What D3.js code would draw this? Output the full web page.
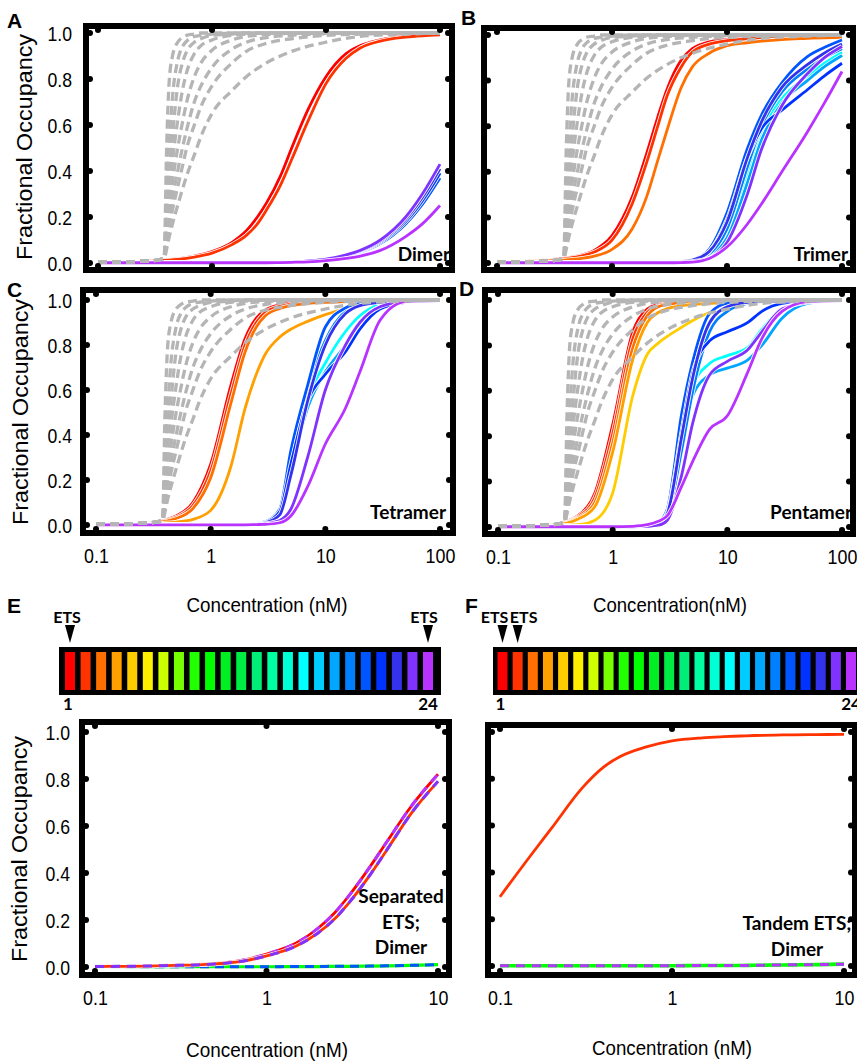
<!DOCTYPE html>
<html><head><meta charset="utf-8">
<script src="https://cdn.jsdelivr.net/npm/d3@7"></script>
<style>body{margin:0;background:#fff}svg{display:block}</style>
</head><body>
<svg id="chart" width="857" height="1061"></svg>
<script>
// ---------------- DATA ----------------
const positions = [1,2,3,4,5,6,7,8,9,10,11,12,13,14,15,16,17,18,19,20,21,22,23,24];
const positionColors = ["#ff0000","#ff3300","#ff7000","#ff9f00","#ffcc00","#fff000","#ccff00","#77ff00",
  "#22ff00","#00ff00","#00ee22","#00ee44","#00ee77","#00ffa0","#00ffd5","#00ffff",
  "#00ccff","#00a6ff","#0080ff","#0055ff","#0033ff","#3333ee","#8033ff","#b833ff"];
const yTicks = [0, 0.2, 0.4, 0.6, 0.8, 1.0];
const xTicksWide = [0.1, 1, 10, 100];
const xTickLabelsWide = ["0.1", "1", "10", "100"];
const xTicksNarrow = [0.1, 1, 10];
const xTickLabelsNarrow = ["0.1", "1", "10"];

// concentration grid (nM) for panels A-D
const concentrations = [0.1,0.15,0.2,0.3,0.4,0.5,0.7,1,1.5,2,2.5,3,4,5,7,10,15,20,30,50,70,100];

// gray dashed reference curves (shared by A-D)
const grayConcentrations = [0.1,0.2,0.3,0.38,0.4,0.42,0.45,0.5,0.55,0.6,0.7,0.8,1,1.5,2,3,5,10,20,50,100];
const gray1 = [0.004,0.006,0.01,0.02,0.5,0.78,0.9,0.96,0.98,0.99,0.995,1,1,1,1,1,1,1,1,1,1];
const gray2 = [0.004,0.006,0.01,0.02,0.3,0.5,0.72,0.88,0.94,0.965,0.985,0.99,0.995,1,1,1,1,1,1,1,1];
const gray3 = [0.004,0.006,0.01,0.02,0.2,0.36,0.55,0.77,0.87,0.92,0.96,0.975,0.99,0.995,1,1,1,1,1,1,1];
const gray4 = [0.004,0.006,0.01,0.02,0.15,0.28,0.44,0.62,0.75,0.83,0.91,0.945,0.97,0.99,0.995,1,1,1,1,1,1];
const gray5 = [0.004,0.006,0.01,0.02,0.12,0.22,0.35,0.5,0.61,0.7,0.81,0.87,0.925,0.97,0.985,0.993,0.998,1,1,1,1];
const gray6 = [0.004,0.006,0.01,0.02,0.1,0.18,0.28,0.4,0.5,0.58,0.7,0.77,0.85,0.93,0.96,0.98,0.99,0.997,1,1,1];
const gray7 = [0.004,0.006,0.01,0.02,0.08,0.15,0.23,0.33,0.42,0.5,0.6,0.68,0.77,0.87,0.92,0.955,0.975,0.99,0.995,1,1];
const gray8 = [0.004,0.006,0.01,0.02,0.06,0.11,0.17,0.25,0.32,0.38,0.47,0.55,0.65,0.75,0.81,0.87,0.92,0.96,0.985,0.995,1];
const grayCurves = [gray1, gray2, gray3, gray4, gray5, gray6, gray7, gray8];

// A: Dimer
const dimerRed       = [0.003,0.004,0.006,0.01,0.014,0.018,0.03,0.05,0.09,0.14,0.2,0.26,0.38,0.5,0.67,0.81,0.91,0.945,0.97,0.985,0.99,0.993];
const dimerRedOrange = [0.003,0.004,0.005,0.008,0.012,0.016,0.026,0.043,0.08,0.12,0.17,0.23,0.34,0.45,0.62,0.78,0.89,0.935,0.965,0.982,0.988,0.992];
const dimerLate      = [0.001,0.001,0.001,0.001,0.001,0.001,0.001,0.002,0.002,0.002,0.003,0.003,0.003,0.004,0.008,0.015,0.03,0.05,0.09,0.18,0.27,0.39];
const dimerBlueLow   = [0.001,0.001,0.001,0.001,0.001,0.001,0.001,0.002,0.002,0.002,0.003,0.003,0.003,0.004,0.007,0.014,0.028,0.047,0.085,0.17,0.255,0.37];
const dimerBlueHigh  = [0.001,0.001,0.001,0.001,0.001,0.001,0.001,0.002,0.002,0.002,0.003,0.003,0.003,0.004,0.008,0.016,0.032,0.052,0.095,0.19,0.285,0.41];
const dimerViolet    = [0.001,0.001,0.001,0.001,0.001,0.001,0.001,0.002,0.002,0.002,0.003,0.003,0.003,0.004,0.009,0.017,0.035,0.055,0.1,0.2,0.3,0.43];
const dimerPurple    = [0.001,0.001,0.001,0.001,0.001,0.001,0.001,0.001,0.001,0.001,0.001,0.001,0.002,0.003,0.005,0.01,0.02,0.03,0.055,0.115,0.17,0.25];
const dimerByPosition = [dimerRed, dimerRedOrange,
  dimerLate, dimerLate, dimerLate, dimerLate, dimerLate, dimerLate, dimerLate, dimerLate, dimerLate,
  dimerLate, dimerLate, dimerLate, dimerLate, dimerLate, dimerLate, dimerLate, dimerLate,
  dimerBlueLow, dimerLate, dimerBlueHigh, dimerViolet, dimerPurple];

// B: Trimer
const trimerRed       = [0.004,0.006,0.009,0.015,0.022,0.03,0.055,0.12,0.29,0.48,0.64,0.76,0.89,0.94,0.97,0.98,0.986,0.99,0.99,0.992,0.993,0.993];
const trimerRedOrange = [0.004,0.005,0.008,0.013,0.02,0.027,0.048,0.1,0.26,0.44,0.6,0.73,0.86,0.925,0.96,0.975,0.983,0.987,0.99,0.992,0.993,0.993];
const trimerOrange    = [0.003,0.004,0.006,0.01,0.014,0.018,0.03,0.06,0.15,0.29,0.45,0.58,0.77,0.86,0.92,0.953,0.966,0.973,0.98,0.985,0.988,0.99];
const trimerBlue      = [0.001,0.001,0.001,0.001,0.001,0.001,0.001,0.001,0.002,0.002,0.002,0.003,0.007,0.015,0.06,0.22,0.5,0.65,0.79,0.905,0.945,0.978];
const trimerHigh      = [0.001,0.001,0.001,0.001,0.001,0.001,0.001,0.001,0.002,0.002,0.002,0.003,0.006,0.013,0.05,0.18,0.46,0.62,0.77,0.87,0.92,0.96];
const trimerMid       = [0.001,0.001,0.001,0.001,0.001,0.001,0.001,0.001,0.001,0.002,0.002,0.003,0.005,0.011,0.04,0.15,0.42,0.6,0.75,0.85,0.9,0.94];
const trimerMid2      = [0.001,0.001,0.001,0.001,0.001,0.001,0.001,0.001,0.001,0.002,0.002,0.003,0.005,0.01,0.035,0.13,0.39,0.58,0.72,0.82,0.875,0.925];
const trimerLow       = [0.001,0.001,0.001,0.001,0.001,0.001,0.001,0.001,0.001,0.002,0.002,0.002,0.004,0.009,0.03,0.11,0.35,0.54,0.7,0.8,0.86,0.91];
const trimerDark      = [0.001,0.001,0.001,0.001,0.001,0.001,0.001,0.001,0.002,0.002,0.002,0.003,0.006,0.013,0.05,0.19,0.46,0.59,0.67,0.76,0.82,0.876];
const trimerViolet    = [0.001,0.001,0.001,0.001,0.001,0.001,0.001,0.001,0.001,0.001,0.002,0.002,0.004,0.007,0.022,0.09,0.3,0.5,0.69,0.83,0.9,0.95];
const trimerPurple    = [0.001,0.001,0.001,0.001,0.001,0.001,0.001,0.001,0.001,0.001,0.001,0.001,0.002,0.004,0.02,0.07,0.17,0.26,0.4,0.575,0.7,0.84];
const trimerByPosition = [trimerRed, trimerRedOrange, trimerOrange,
  trimerLow, trimerLow, trimerLow, trimerLow, trimerLow, trimerLow, trimerLow, trimerLow, trimerLow, trimerLow,
  trimerMid2, trimerMid, trimerMid2, trimerHigh, trimerLow, trimerMid,
  trimerBlue, trimerDark, trimerHigh, trimerViolet, trimerPurple];

// C: Tetramer
const tetramerRed       = [0.003,0.004,0.006,0.01,0.022,0.04,0.1,0.27,0.62,0.83,0.92,0.955,0.978,0.986,0.99,0.993,0.995,0.995,0.995,0.995,0.995,0.995];
const tetramerRedOrange = [0.003,0.004,0.005,0.009,0.019,0.034,0.086,0.24,0.58,0.8,0.9,0.945,0.972,0.982,0.988,0.992,0.994,0.995,0.995,0.995,0.995,0.995];
const tetramerOrange    = [0.002,0.003,0.005,0.008,0.016,0.029,0.073,0.21,0.54,0.77,0.88,0.93,0.962,0.975,0.985,0.99,0.993,0.995,0.995,0.995,0.995,0.995];
const tetramerAmber     = [0.002,0.003,0.004,0.006,0.009,0.013,0.025,0.065,0.26,0.52,0.67,0.76,0.835,0.87,0.905,0.935,0.962,0.978,0.99,0.995,0.995,0.995];
const tetramerBlue      = [0.001,0.001,0.001,0.001,0.001,0.001,0.001,0.001,0.002,0.003,0.006,0.015,0.07,0.33,0.62,0.88,0.965,0.985,0.993,0.995,0.995,0.995];
const tetramerBundleA   = [0.001,0.001,0.001,0.001,0.001,0.001,0.001,0.001,0.002,0.003,0.005,0.012,0.06,0.28,0.6,0.82,0.95,0.98,0.99,0.995,0.995,0.995];
const tetramerBundleB   = [0.001,0.001,0.001,0.001,0.001,0.001,0.001,0.001,0.002,0.003,0.004,0.01,0.045,0.22,0.55,0.8,0.94,0.975,0.99,0.995,0.995,0.995];
const tetramerCyan      = [0.001,0.001,0.001,0.001,0.001,0.001,0.001,0.001,0.002,0.003,0.005,0.011,0.055,0.26,0.56,0.72,0.86,0.93,0.98,0.995,0.995,0.995];
const tetramerSky       = [0.001,0.001,0.001,0.001,0.001,0.001,0.001,0.001,0.002,0.003,0.004,0.01,0.05,0.24,0.52,0.68,0.8,0.9,0.97,0.993,0.995,0.995];
const tetramerDark      = [0.001,0.001,0.001,0.001,0.001,0.001,0.001,0.001,0.002,0.003,0.005,0.012,0.06,0.27,0.55,0.67,0.77,0.87,0.96,0.99,0.995,0.995];
const tetramerViolet    = [0.001,0.001,0.001,0.001,0.001,0.001,0.001,0.001,0.001,0.002,0.003,0.006,0.02,0.07,0.3,0.6,0.8,0.9,0.97,0.993,0.995,0.995];
const tetramerPurple    = [0.001,0.001,0.001,0.001,0.001,0.001,0.001,0.001,0.001,0.001,0.002,0.003,0.01,0.04,0.17,0.36,0.52,0.68,0.91,0.993,0.996,0.997];
const tetramerByPosition = [tetramerRed, tetramerRedOrange, tetramerOrange, tetramerAmber,
  tetramerBundleB, tetramerBundleB, tetramerBundleB, tetramerBundleB, tetramerBundleB, tetramerBundleB, tetramerBundleB,
  tetramerBundleA, tetramerBundleA, tetramerBundleA, tetramerCyan, tetramerCyan, tetramerSky, tetramerSky, tetramerBundleA,
  tetramerBlue, tetramerDark, tetramerBundleB, tetramerViolet, tetramerPurple];

// D: Pentamer
const pentamerRed       = [0.003,0.005,0.007,0.012,0.025,0.05,0.15,0.45,0.86,0.96,0.98,0.988,0.992,0.994,0.995,0.995,0.995,0.995,0.995,0.995,0.995,0.995];
const pentamerRedOrange = [0.003,0.004,0.006,0.011,0.022,0.045,0.13,0.41,0.83,0.945,0.975,0.985,0.99,0.993,0.995,0.995,0.995,0.995,0.995,0.995,0.995,0.995];
const pentamerOrange    = [0.003,0.004,0.006,0.01,0.02,0.04,0.11,0.37,0.79,0.93,0.97,0.98,0.988,0.992,0.994,0.995,0.995,0.995,0.995,0.995,0.995,0.995];
const pentamerAmber     = [0.002,0.003,0.005,0.009,0.017,0.035,0.09,0.33,0.74,0.9,0.945,0.962,0.975,0.98,0.985,0.99,0.993,0.995,0.995,0.995,0.995,0.995];
const pentamerGold      = [0.002,0.003,0.004,0.006,0.008,0.01,0.03,0.15,0.58,0.76,0.81,0.84,0.88,0.91,0.945,0.975,0.99,0.993,0.995,0.995,0.995,0.995];
const pentamerBlue      = [0.001,0.001,0.001,0.001,0.001,0.001,0.001,0.001,0.002,0.005,0.02,0.08,0.5,0.73,0.94,0.985,0.99,0.995,0.995,0.995,0.995,0.995];
const pentamerBundle    = [0.001,0.001,0.001,0.001,0.001,0.001,0.001,0.001,0.002,0.004,0.015,0.06,0.4,0.66,0.9,0.97,0.99,0.995,0.995,0.995,0.995,0.995];
const pentamerBundle2   = [0.001,0.001,0.001,0.001,0.001,0.001,0.001,0.001,0.002,0.004,0.012,0.05,0.34,0.6,0.86,0.95,0.985,0.993,0.995,0.995,0.995,0.995];
const pentamerKink      = [0.001,0.001,0.001,0.001,0.001,0.001,0.001,0.001,0.002,0.004,0.015,0.065,0.42,0.68,0.82,0.86,0.9,0.95,0.985,0.995,0.995,0.995];
const pentamerCyan      = [0.001,0.001,0.001,0.001,0.001,0.001,0.001,0.001,0.001,0.003,0.012,0.05,0.36,0.62,0.72,0.755,0.79,0.87,0.96,0.99,0.995,0.995];
const pentamerSky       = [0.001,0.001,0.001,0.001,0.001,0.001,0.001,0.001,0.001,0.003,0.01,0.045,0.33,0.58,0.67,0.7,0.735,0.8,0.92,0.985,0.993,0.995];
const pentamerViolet    = [0.001,0.001,0.001,0.001,0.001,0.001,0.001,0.001,0.001,0.003,0.008,0.03,0.23,0.46,0.67,0.73,0.78,0.86,0.96,0.99,0.995,0.995];
const pentamerPurple    = [0.001,0.001,0.001,0.001,0.001,0.001,0.001,0.001,0.003,0.01,0.025,0.05,0.18,0.29,0.43,0.49,0.68,0.83,0.95,0.993,0.996,0.997];
const pentamerByPosition = [pentamerRed, pentamerRedOrange, pentamerOrange, pentamerAmber, pentamerGold,
  pentamerBundle, pentamerBundle, pentamerBundle, pentamerBundle, pentamerBundle, pentamerBundle, pentamerBundle, pentamerBundle, pentamerBundle,
  pentamerCyan, pentamerCyan, pentamerBundle2, pentamerSky, pentamerBundle2,
  pentamerBlue, pentamerKink, pentamerBundle, pentamerViolet, pentamerPurple];

// E / F
const concentrationsEF = [0.1,0.15,0.2,0.3,0.4,0.5,0.7,1,1.5,2,2.5,3,4,5,7,10];
const separatedUpper = [0.003,0.004,0.005,0.008,0.011,0.015,0.027,0.055,0.103,0.165,0.231,0.3,0.425,0.53,0.685,0.82];
const separatedLower = [0.002,0.003,0.004,0.007,0.009,0.013,0.023,0.047,0.09,0.145,0.205,0.27,0.39,0.495,0.655,0.79];
const separatedFlat  = [0.001,0.001,0.001,0.001,0.001,0.001,0.001,0.001,0.002,0.002,0.003,0.003,0.004,0.005,0.007,0.01];
const tandemUpper    = [0.296,0.47,0.59,0.76,0.85,0.895,0.935,0.962,0.975,0.98,0.983,0.985,0.987,0.988,0.989,0.99];
const tandemFlat     = [0.001,0.001,0.001,0.001,0.001,0.001,0.001,0.001,0.002,0.002,0.002,0.003,0.004,0.005,0.006,0.008];
const separatedETS = [1, 24];
const tandemETS = [1, 2];

// ---------------- DRAWING ----------------
const svg = d3.select("#chart");
svg.append("rect").attr("width", 857).attr("height", 1061).attr("fill", "#fff");
const FONT = "'Liberation Sans', Arial, Helvetica, sans-serif";
const BOLD = "Lato, 'Open Sans', sans-serif";

function condense(sel, f) {
  sel.each(function () {
    const w = this.getComputedTextLength();
    d3.select(this).attr("textLength", w * f).attr("lengthAdjust", "spacingAndGlyphs");
  });
}

function drawPanel(p) {
  const x = d3.scaleLog().domain(p.xDomain).range([p.x0, p.x1]);
  const y = d3.scaleLinear().domain([0, 1]).range([p.y0, p.y1]);
  const g = svg.append("g");
  const line = d3.line().x((d, i) => x(p.xs[i])).y(d => y(d)).curve(d3.curveMonotoneX);

  p.series.forEach(s => {
    if (!s.dash) {
      g.append("path").attr("d", line(s.values)).attr("fill", "none")
        .attr("stroke", "#fff").attr("stroke-width", 4.4);
    }
    g.append("path").attr("d", line(s.values)).attr("fill", "none")
      .attr("stroke", s.color).attr("stroke-width", s.width || 2.8)
      .attr("stroke-dasharray", s.dash || null);
  });

  if (p.gray) {
    const gline = d3.line().x((d, i) => x(grayConcentrations[i])).y(d => y(d)).curve(d3.curveMonotoneX);
    grayCurves.forEach(vals => {
      g.append("path").attr("d", gline(vals)).attr("fill", "none")
        .attr("stroke", "#b5b5b5").attr("stroke-width", 3.3).attr("stroke-dasharray", "9,5");
    });
  }

  // frame
  const f = p.frame;
  g.append("rect").attr("x", f.l).attr("y", f.t).attr("width", f.r - f.l).attr("height", f.b - f.t)
    .attr("fill", "none").attr("stroke", "#000").attr("stroke-width", 6);
  // tick dots
  p.xTicks.forEach(t => {
    g.append("circle").attr("cx", x(t)).attr("cy", f.t + 4).attr("r", 3);
    g.append("circle").attr("cx", x(t)).attr("cy", f.b - 4).attr("r", 3);
  });
  yTicks.forEach(t => {
    g.append("circle").attr("cx", f.l + 4).attr("cy", y(t)).attr("r", 3);
    g.append("circle").attr("cx", f.r - 4).attr("cy", y(t)).attr("r", 3);
  });

  if (p.yLabelX) {
    const ax = g.append("g").attr("transform", `translate(${p.yLabelX},0)`)
      .call(d3.axisLeft(y).tickValues(yTicks).tickFormat(d3.format(".1f")).tickSize(0).tickPadding(0));
    ax.select(".domain").remove();
    ax.selectAll("text").attr("font-family", FONT).attr("font-size", 21).attr("fill", "#000").attr("dy", "0.36em");
    condense(ax.selectAll("text"), 0.84);
  }
  if (p.xLabelY) {
    const ax = g.append("g").attr("transform", `translate(0,${p.xLabelY})`)
      .call(d3.axisBottom(x).tickValues(p.xTicks).tickFormat((d, i) => p.xTickLabels[i]).tickSize(0).tickPadding(0));
    ax.select(".domain").remove();
    ax.selectAll("text").attr("font-family", FONT).attr("font-size", 21).attr("fill", "#000").attr("dy", null).attr("y", 0);
    condense(ax.selectAll("text"), 0.85);
  }
  if (p.name) {
    p.name.forEach((ln, i) => {
      g.append("text").attr("x", p.nameX).attr("y", p.nameY + i * 25.5).attr("text-anchor", p.nameAnchor)
        .attr("font-family", BOLD).attr("font-weight", 700).attr("font-size", 19).attr("fill", "#000").text(ln);
    });
  }
}

function byPositionSeries(arrs) {
  return arrs.map((vals, i) => ({ color: positionColors[i], values: vals }));
}

const panels = [
  { xs: concentrations, xDomain: [0.1, 100], x0: 98, x1: 440, y0: 263, y1: 33,
    frame: { l: 86, r: 452, t: 26, b: 270 }, xTicks: xTicksWide, gray: true,
    series: byPositionSeries(dimerByPosition), yLabelX: 72,
    name: ["Dimer"], nameX: 450, nameY: 261, nameAnchor: "end" },
  { xs: concentrations, xDomain: [0.1, 100], x0: 497, x1: 842, y0: 263, y1: 35,
    frame: { l: 484, r: 853, t: 28, b: 270 }, xTicks: xTicksWide, gray: true,
    series: byPositionSeries(trimerByPosition),
    name: ["Trimer"], nameX: 848, nameY: 261, nameAnchor: "end" },
  { xs: concentrations, xDomain: [0.1, 100], x0: 96, x1: 440, y0: 525, y1: 300,
    frame: { l: 83, r: 453, t: 290, b: 533 }, xTicks: xTicksWide, gray: true,
    series: byPositionSeries(tetramerByPosition), yLabelX: 72,
    xLabelY: 563, xTickLabels: xTickLabelsWide,
    name: ["Tetramer"], nameX: 446, nameY: 519, nameAnchor: "end" },
  { xs: concentrations, xDomain: [0.1, 100], x0: 498, x1: 842, y0: 527, y1: 300,
    frame: { l: 485, r: 853, t: 290, b: 534 }, xTicks: xTicksWide, gray: true,
    series: byPositionSeries(pentamerByPosition),
    xLabelY: 564, xTickLabels: xTickLabelsWide,
    name: ["Pentamer"], nameX: 852, nameY: 519, nameAnchor: "end" },
  { xs: concentrationsEF, xDomain: [0.1, 10], x0: 95, x1: 438, y0: 967, y1: 732,
    frame: { l: 82, r: 449, t: 722, b: 975 }, xTicks: xTicksNarrow, gray: false,
    series: [
      { color: positionColors[9], values: separatedFlat, width: 3.2 },
      { color: positionColors[19], values: separatedFlat, dash: "9,6", width: 3 },
      { color: positionColors[0], values: separatedUpper },
      { color: positionColors[23], values: separatedUpper, dash: "9,7", width: 3 },
      { color: positionColors[1], values: separatedLower },
      { color: positionColors[22], values: separatedLower, dash: "9,7", width: 3 }
    ], yLabelX: 70, xLabelY: 1005, xTickLabels: xTickLabelsNarrow,
    name: ["Separated", "ETS;", "Dimer"], nameX: 401, nameY: 903, nameAnchor: "middle" },
  { xs: concentrationsEF, xDomain: [0.1, 10], x0: 500, x1: 844, y0: 966, y1: 732,
    frame: { l: 488, r: 855, t: 725, b: 975 }, xTicks: xTicksNarrow, gray: false,
    series: [
      { color: positionColors[9], values: tandemFlat, width: 3.6 },
      { color: positionColors[23], values: tandemFlat, dash: "9,7", width: 3 },
      { color: positionColors[0], values: tandemUpper },
      { color: positionColors[1], values: tandemUpper }
    ], xLabelY: 1005, xTickLabels: xTickLabelsNarrow,
    name: ["Tandem ETS;", "Dimer"], nameX: 797, nameY: 930, nameAnchor: "middle" }
];
panels.forEach(drawPanel);

// colour bars
function drawColorbar(cb) {
  const cx = d3.scaleLinear().domain([1, 24]).range(cb.range);
  const g = svg.append("g");
  g.append("rect").attr("x", cb.frameX).attr("y", 647).attr("width", cb.frameW).attr("height", 48).attr("fill", "#000");
  g.selectAll("rect.cell").data(positions).join("rect").attr("class", "cell")
    .attr("x", d => cx(d) - 5).attr("y", 652).attr("width", 10).attr("height", 38)
    .attr("fill", (d, i) => positionColors[i]);
  cb.ets.forEach((pos, i) => {
    const ax = cx(pos);
    g.append("path").attr("d", `M${ax - 5},625L${ax + 5},625L${ax},643Z`).attr("fill", "#000");
    g.append("text").attr("x", ax + cb.labelShift[i]).attr("y", 623).attr("text-anchor", "middle")
      .attr("font-family", BOLD).attr("font-weight", 700).attr("font-size", 16).text("ETS");
  });
  [1, 24].forEach(pos => {
    g.append("text").attr("x", cx(pos) + (pos === 1 ? -2 : 0)).attr("y", 710).attr("text-anchor", "middle")
      .attr("font-family", BOLD).attr("font-weight", 700).attr("font-size", 17).text(pos);
  });
}
drawColorbar({ range: [70, 428], frameX: 59, frameW: 382, ets: separatedETS, labelShift: [-3, -4] });
drawColorbar({ range: [502.5, 851], frameX: 493, frameW: 380, ets: tandemETS, labelShift: [-8, 6] });

// titles
const letters = [["A", 7, 28], ["B", 461, 25], ["C", 7, 297], ["D", 459, 296], ["E", 7, 613], ["F", 465, 613]];
letters.forEach(([t, lx, ly]) => {
  svg.append("text").attr("x", lx).attr("y", ly).attr("font-family", FONT).attr("font-weight", 700)
    .attr("font-size", 21).text(t);
});
const yTitles = [[32, 147], [28, 412], [27, 849]];
yTitles.forEach(([tx, ty]) => {
  svg.append("text").attr("transform", `translate(${tx},${ty}) rotate(-90)`).attr("text-anchor", "middle")
    .attr("font-family", FONT).attr("font-size", 22).attr("textLength", 226).attr("lengthAdjust", "spacingAndGlyphs")
    .text("Fractional Occupancy");
});
const xTitles = [["Concentration (nM)", 267, 612, 161], ["Concentration(nM)", 670, 612, 154],
  ["Concentration (nM)", 267, 1057, 162], ["Concentration (nM)", 672, 1055, 160]];
xTitles.forEach(([t, tx, ty, w]) => {
  svg.append("text").attr("x", tx).attr("y", ty).attr("text-anchor", "middle")
    .attr("font-family", FONT).attr("font-size", 21).attr("textLength", w).attr("lengthAdjust", "spacingAndGlyphs").text(t);
});
</script>
</body></html>
